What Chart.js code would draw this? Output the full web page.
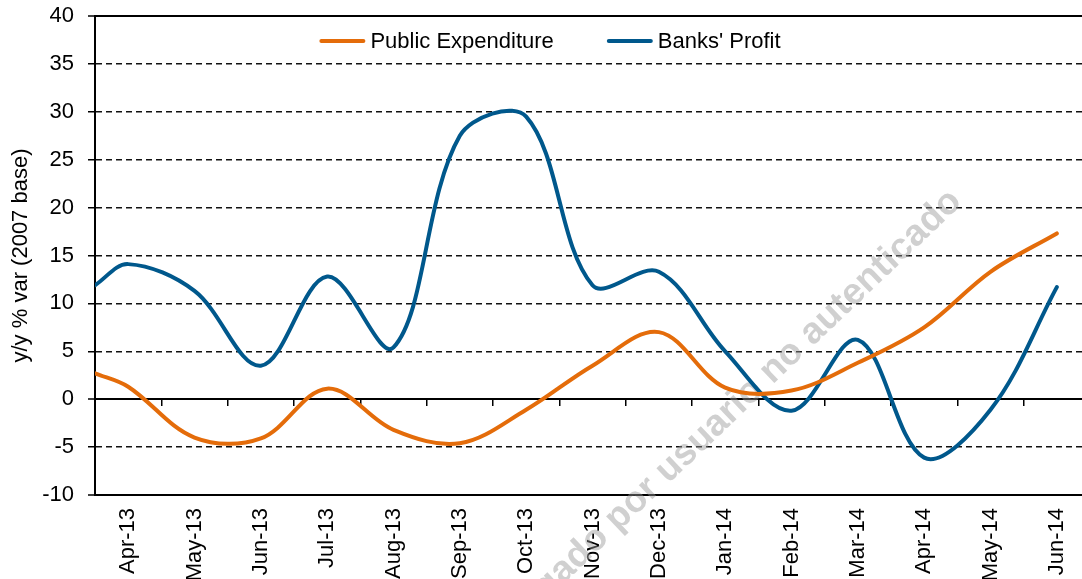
<!DOCTYPE html>
<html>
<head>
<meta charset="utf-8">
<script src="https://cdn.jsdelivr.net/npm/chart.js@4.4.0/dist/chart.umd.min.js"></script>
<style>
html,body{margin:0;padding:0;overflow:hidden;background:#fff;width:1082px;height:579px}
#wrap{position:absolute;left:0;top:0;width:1100px;height:600px}
</style>
</head>
<body>
<div id="wrap"><canvas id="c" width="1100" height="600"></canvas></div>
<script>
// ---- data ----
const categories = ['Apr-13','May-13','Jun-13','Jul-13','Aug-13','Sep-13','Oct-13','Nov-13','Dec-13','Jan-14','Feb-14','Mar-14','Apr-14','May-14','Jun-14'];
// position of each observation in month units (0 = Apr-13); first one sits at the plot edge
const pointPositions = [-0.5, 0, 1, 2, 3, 4, 5, 6, 7, 8, 9, 10, 11, 12, 13, 14];
const publicExpenditure = [2.7, 1.3, -4.0, -4.1, 1.1, -3.2, -4.6, -1.1, 3.5, 7.0, 1.2, 0.9, 3.8, 7.5, 13.3, 17.3];
const banksProfit       = [11.9, 14.1, 11.3, 3.5, 12.8, 5.4, 27.5, 29.5, 11.9, 13.3, 5.0, -1.2, 6.2, -6.1, -1.1, 11.7];
const yMin = -10, yMax = 40, yStep = 5;
const seriesNames = ['Public Expenditure', "Banks' Profit"];
const seriesColors = ['#E46C0A', '#00588C'];
const yTitle = 'y/y % var (2007 base)';
const watermarkText = 'Descargado por usuario no autenticado';

const FONT = "'Liberation Sans', Arial, sans-serif";
const FS = 22;
Chart.defaults.font.family = FONT;
Chart.defaults.color = '#000';

function toPoints(xs, ys){ return ys.map((v,i)=>({x: xs[i], y: v})); }

const insideLegend = {
  id: 'insideLegend',
  afterDraw(chart){
    const ctx = chart.ctx;
    ctx.save();
    ctx.font = FS + 'px ' + FONT;
    ctx.textBaseline = 'middle';
    ctx.textAlign = 'left';
    const sample = 46, gapText = 5, gapItem = 53;
    const items = chart.data.datasets.map(d => ({label: d.label, color: d.borderColor, w: ctx.measureText(d.label).width}));
    let total = 0;
    items.forEach((it,i)=>{ total += sample + gapText + it.w + (i < items.length-1 ? gapItem : 0); });
    let x = chart.width/2 - total/2;
    const y = 42;
    items.forEach(it=>{
      ctx.strokeStyle = it.color; ctx.lineWidth = 4; ctx.lineCap = 'round';
      ctx.beginPath(); ctx.moveTo(x+2, y-1); ctx.lineTo(x+sample-2, y-1); ctx.stroke();
      x += sample + gapText;
      ctx.fillStyle = '#000';
      ctx.fillText(it.label, x, y);
      x += it.w + gapItem;
    });
    ctx.restore();
  }
};

const watermark = {
  id: 'watermark',
  beforeDatasetsDraw(chart){
    const ctx = chart.ctx;
    ctx.save();
    ctx.translate(703, 437);
    ctx.rotate(-43.6 * Math.PI/180);
    ctx.font = 'bold 37px ' + FONT;
    ctx.fillStyle = 'rgba(150,150,150,0.45)';
    ctx.textAlign = 'center';
    ctx.textBaseline = 'middle';
    ctx.fillText(watermarkText, 0, 0);
    ctx.restore();
  }
};

const special = v => v === yMax || v === yMin || v === 0;

new Chart(document.getElementById('c'), {
  type: 'line',
  data: {
    labels: categories,
    datasets: [
      {label: seriesNames[0], data: toPoints(pointPositions, publicExpenditure), borderColor: seriesColors[0], backgroundColor: seriesColors[0]},
      {label: seriesNames[1], data: toPoints(pointPositions, banksProfit), borderColor: seriesColors[1], backgroundColor: seriesColors[1]}
    ]
  },
  options: {
    responsive: false,
    animation: false,
    devicePixelRatio: 1,
    layout: {padding: {left: 0, right: 10, top: 16, bottom: 0}},
    elements: {
      line: {borderWidth: 4, tension: 0.35, borderCapStyle: 'round', borderJoinStyle: 'round', fill: false},
      point: {radius: 0, hoverRadius: 0}
    },
    plugins: {legend: {display: false}, tooltip: {enabled: false}},
    scales: {
      x: {
        type: 'linear',
        position: {y: 0},
        min: -0.5, max: 14.5,
        ticks: {display: false, stepSize: 1},
        grid: {drawOnChartArea: false, drawTicks: true, tickLength: 6, color: '#000', lineWidth: 1.5, tickColor: '#000', tickBorderDash: []},
        border: {display: true, color: '#000', width: 2},
        afterFit: s => { s.paddingTop = 0; s.paddingBottom = 0; }
      },
      x2: {
        type: 'category',
        position: 'bottom',
        offset: true,
        grid: {display: false},
        border: {display: false},
        ticks: {minRotation: 90, maxRotation: 90, autoSkip: false, padding: 5, font: {size: FS}, color: '#000'},
        afterFit: s => { s.height = 105; s.paddingTop = 0; }
      },
      y: {
        type: 'linear',
        position: 'left',
        min: yMin, max: yMax,
        ticks: {stepSize: yStep, padding: 14, font: {size: FS}, color: '#000'},
        grid: {
          color: c => (c.tick && special(c.tick.value)) ? '#000' : '#111',
          lineWidth: c => (c.tick && special(c.tick.value)) ? 2 : 1.5,
          tickLength: 7, tickColor: '#000', tickWidth: 1.5, tickBorderDash: []
        },
        border: {
          display: true, color: '#000', width: 2,
          dash: c => (c.tick && !special(c.tick.value)) ? [6, 4] : []
        },
        title: {display: true, text: yTitle, font: {size: FS}, color: '#000', padding: {top: 8, bottom: 0}},
        afterFit: s => { s.width = 95; s.paddingTop = 10; s.paddingBottom = 10; }
      }
    }
  },
  plugins: [watermark, insideLegend]
});
</script>
</body>
</html>
